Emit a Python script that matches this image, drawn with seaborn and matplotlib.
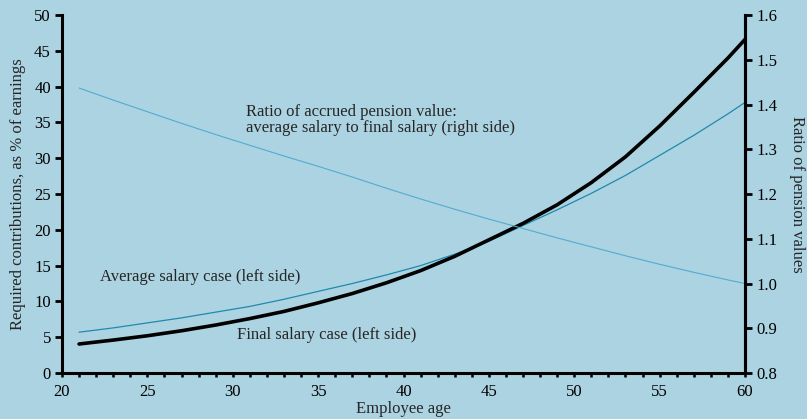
import numpy as np
import pandas as pd
import seaborn as sns
import matplotlib.pyplot as plt
from matplotlib.ticker import MultipleLocator, FormatStrFormatter

ages = [21, 23, 25, 27, 29, 31, 33, 35, 37, 39, 41, 43, 45, 47, 49, 51, 53, 55, 57, 59, 60]
# required contributions, % of earnings (left axis)
final_salary = [4.05, 4.6, 5.2, 5.9, 6.7, 7.6, 8.6, 9.8, 11.1, 12.6, 14.3, 16.3, 18.6,
                20.9, 23.5, 26.6, 30.2, 34.5, 39.2, 44.0, 46.6]
average_salary = [5.7, 6.3, 7.0, 7.7, 8.5, 9.3, 10.3, 11.4, 12.5, 13.7, 15.0, 16.6, 18.4,
                  20.6, 22.8, 25.1, 27.6, 30.4, 33.2, 36.2, 37.8]
# ratio of pension values (right axis)
ratio = [1.437, 1.410, 1.384, 1.358, 1.333, 1.309, 1.285, 1.262, 1.238, 1.213, 1.189,
         1.166, 1.144, 1.123, 1.102, 1.082, 1.062, 1.043, 1.025, 1.008, 1.0]

bg = '#acd3e1'
fs = 12

sns.set_theme(style='ticks')
plt.rcParams['font.family'] = ['Liberation Serif', 'DejaVu Serif']
plt.rcParams['font.size'] = fs

df = pd.DataFrame({'age': ages, 'final': final_salary, 'avg': average_salary, 'ratio': ratio})

fig = plt.figure(figsize=(8.07, 4.19), dpi=100, facecolor=bg)
ax = fig.add_axes([0.0768, 0.1098, 0.8464, 0.8542])
ax.set_facecolor(bg)
ax2 = ax.twinx()

sns.lineplot(data=df, x='age', y='avg', ax=ax, color='#2089ad', linewidth=0.9)
sns.lineplot(data=df, x='age', y='final', ax=ax, color='black', linewidth=2.6)
sns.lineplot(data=df, x='age', y='ratio', ax=ax2, color='#52acd0', linewidth=0.8)

ax.set_xlim(20, 60)
ax.set_ylim(0, 50)
ax2.set_ylim(0.8, 1.6)

ax.xaxis.set_major_locator(MultipleLocator(5))
ax.xaxis.set_minor_locator(MultipleLocator(1))
ax.yaxis.set_major_locator(MultipleLocator(5))
ax2.yaxis.set_major_locator(MultipleLocator(0.1))
ax2.yaxis.set_major_formatter(FormatStrFormatter('%.1f'))

for a in (ax, ax2):
    a.spines['top'].set_visible(False)
    for s in a.spines.values():
        s.set_linewidth(2.2)
        s.set_color('black')
    a.tick_params(which='major', length=5, width=2, colors='black', labelsize=fs, pad=3)
    a.tick_params(which='minor', length=3, width=1.5, colors='black')
ax.tick_params(axis='x', which='both', length=3, width=1.8, pad=5)
ax2.spines['left'].set_visible(False)
ax2.spines['bottom'].set_visible(False)

ax.set_xlabel('Employee age', fontsize=fs, labelpad=1)
ax.set_ylabel('Required contributions, as % of earnings', fontsize=fs, labelpad=6)
ax2.set_ylabel('Ratio of pension values', fontsize=fs, rotation=270, labelpad=20)

ax.text(30.8, 37.6, 'Ratio of accrued pension value:\naverage salary to final salary (right side)',
        fontsize=fs, va='top', ha='left', linespacing=1.0)
ax.text(22.2, 13.4, 'Average salary case (left side)', fontsize=fs, va='center', ha='left')
ax.text(30.25, 5.3, 'Final salary case (left side)', fontsize=fs, va='center', ha='left')

fig.savefig('out.png', dpi=100, facecolor=bg)
